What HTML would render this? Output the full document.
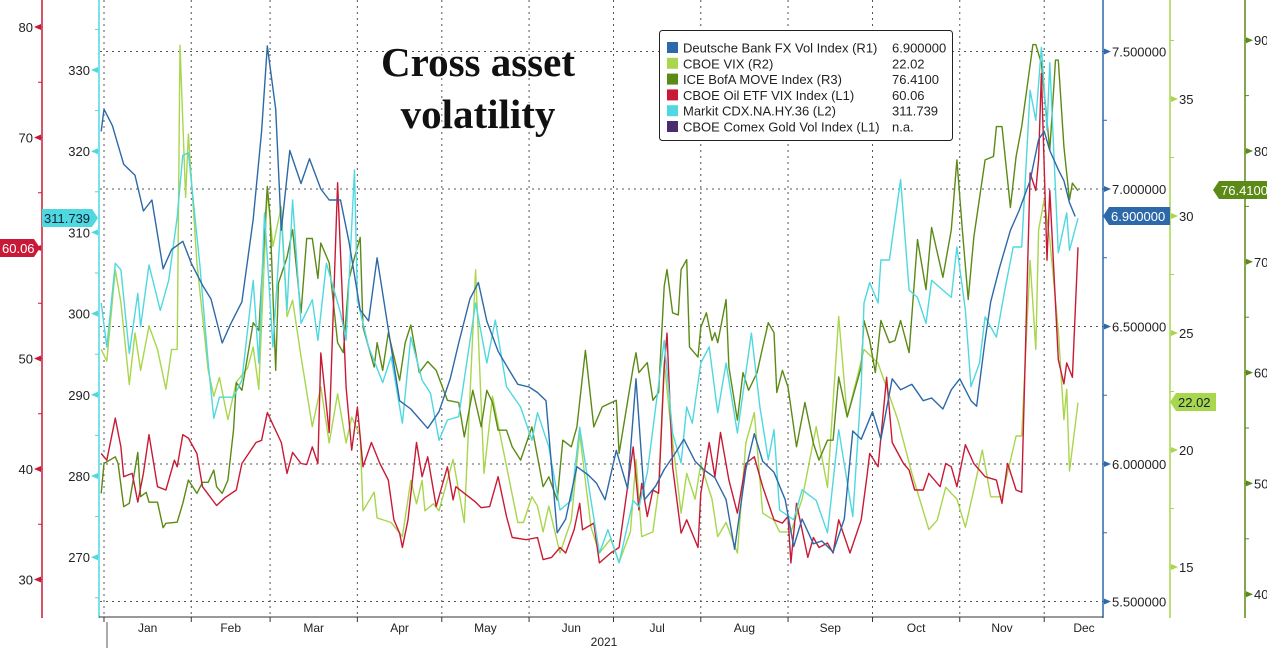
<!DOCTYPE html>
<html><head><meta charset="utf-8">
<style>
html,body{margin:0;padding:0;background:#fff;}
svg{display:block;font-family:"Liberation Sans",sans-serif;}
</style></head>
<body>
<svg id="chart" width="1267" height="648" viewBox="0 0 1267 648" xmlns="http://www.w3.org/2000/svg">
<g id="grid"></g>
<g id="series"></g>
<g id="axes"></g>
<text x="478" y="76" text-anchor="middle" font-family="Liberation Serif,serif" font-weight="bold" font-size="41" fill="#111" stroke="#fff" stroke-width="3" paint-order="stroke">Cross asset</text>
<text x="478" y="128" text-anchor="middle" font-family="Liberation Serif,serif" font-weight="bold" font-size="41" fill="#111" stroke="#fff" stroke-width="3" paint-order="stroke">volatility</text>
<g id="legend"></g>
</svg>
<script>
// ---- data (x = day of year 2021, 0 = Jan 1) ----
const fxDays=[-1,0,3,7,11,14,17,21,24,28,31,35,38,42,45,49,53,56,58,61,63,66,70,73,77,80,84,87,91,94,97,101,105,109,115,119,123,126,130,133,136,140,144,147,151,154,157,161,164,168,172,175,178,182,186,189,192,196,199,203,206,210,213,217,221,224,228,231,234,238,242,245,248,252,255,259,263,266,269,273,276,280,283,287,291,294,298,301,304,308,310,313,315,318,322,325,329,332,334,336,339,341,343,345];
const fxVals=[7.21,7.29,7.23,7.09,7.05,6.92,6.96,6.71,6.78,6.81,6.73,6.65,6.60,6.44,6.51,6.59,6.89,7.21,7.52,7.29,6.85,7.14,7.02,7.11,7.00,6.96,6.96,6.81,6.56,6.52,6.75,6.49,6.23,6.20,6.13,6.19,6.31,6.44,6.60,6.66,6.52,6.41,6.34,6.29,6.28,6.26,6.23,5.75,5.80,5.99,5.96,5.93,5.87,6.05,5.91,6.31,5.87,5.92,5.98,6.04,6.09,6.01,5.98,5.95,5.87,5.69,5.98,6.11,6.01,5.97,5.87,5.70,5.80,5.71,5.72,5.68,5.80,6.12,6.09,6.19,6.09,6.31,6.27,6.29,6.23,6.24,6.20,6.27,6.31,6.23,6.21,6.45,6.59,6.71,6.85,6.92,7.03,7.18,7.21,7.14,7.07,7.03,6.95,6.90];
const cdxDays=[-1,1,4,6,9,12,13,16,20,23,26,28,30,34,37,39,41,46,49,53,55,57,60,63,65,67,70,74,76,79,84,86,89,90,94,99,102,106,109,113,116,119,122,126,132,136,139,143,148,152,154,158,162,166,169,173,176,179,183,188,190,193,199,202,205,207,209,212,215,218,221,225,230,233,236,238,240,245,248,253,257,261,266,269,270,272,275,276,279,283,286,289,292,294,298,301,303,306,308,311,313,317,320,323,326,329,331,333,335,336,339,342,343,346];
const cdxVals=[301.3,295.9,306.2,305.4,295.1,302.5,298.4,306.0,300.4,304.1,311.9,319.5,319.8,306.2,293.9,287.1,289.7,289.7,291.8,304.1,293.9,312.4,295.9,311.9,300.4,314.0,298.8,301.7,296.7,306.2,300.1,296.7,317.7,301.7,295.9,291.5,294.7,286.5,297.1,291.8,290.2,284.4,286.9,287.3,301.3,293.9,299.2,291.0,288.5,284.4,287.8,283.6,275.8,277.0,286.0,277.0,270.5,273.4,269.3,277.0,276.2,280.4,296.7,285.3,281.6,288.5,286.5,293.9,295.9,287.8,293.9,285.3,297.6,288.5,282.0,285.7,275.8,274.6,278.3,277.0,273.0,285.7,275.0,291.0,301.3,303.8,301.3,306.6,306.6,316.5,302.9,302.0,298.8,304.1,302.9,302.0,308.2,300.4,291.0,293.9,299.6,297.1,302.9,308.2,308.2,327.5,323.8,332.8,322.6,330.9,307.5,312.4,307.8,311.739];
const vixDays=[-1,1,4,6,9,11,13,16,19,22,24,26,27,29,30,33,37,39,41,44,47,51,53,55,58,60,63,65,67,70,74,77,80,83,86,88,91,92,96,97,102,106,109,111,113,114,117,119,124,128,132,135,138,142,147,149,152,154,156,158,162,166,169,173,176,180,183,187,189,191,195,197,199,201,205,207,210,212,216,218,221,225,228,231,234,238,240,244,248,253,257,261,264,269,270,275,282,287,293,296,299,303,306,309,312,315,319,324,326,329,331,332,334,336,339,341,342,343,346];
const vixVals=[24.3,23.8,27.7,26.3,22.8,25.0,23.4,25.3,24.3,22.6,24.3,24.3,37.3,30.8,33.5,28.0,23.4,22.3,23.1,21.3,22.9,23.5,24.4,22.6,31.1,28.7,30.4,25.7,26.4,24.0,21.0,22.7,20.3,22.4,20.3,21.4,20.6,17.4,18.2,17.1,16.9,16.3,18.7,17.7,18.7,17.4,17.7,17.4,19.6,16.9,27.7,19.0,22.3,19.9,16.9,16.9,18.0,17.6,16.5,17.6,15.6,17.0,20.7,16.7,15.6,16.2,15.2,16.5,19.6,16.3,16.5,18.3,23.8,21.4,17.3,19.0,17.9,19.4,17.9,16.3,16.9,15.6,20.3,21.6,17.3,17.0,16.5,16.5,17.9,21.0,18.4,25.7,21.4,23.8,24.3,23.7,21.3,19.0,16.6,17.0,18.4,17.9,16.7,18.3,20.0,18.0,18.0,20.6,20.6,28.1,24.3,29.4,30.7,29.0,25.1,21.3,22.6,19.1,22.02];
const moveDays=[-1,0,4,5,7,9,12,13,15,16,19,21,22,26,28,30,33,35,37,39,40,42,44,46,47,49,53,55,58,59,61,62,65,67,70,72,74,76,77,80,83,85,87,89,91,92,96,97,99,101,105,107,109,112,115,118,122,126,128,131,134,136,138,140,143,145,148,152,156,158,161,163,166,168,171,174,177,182,183,188,189,190,193,195,197,199,200,202,204,205,207,208,211,212,214,216,217,218,221,222,225,227,229,232,234,236,238,239,241,243,246,249,252,254,257,259,261,264,269,270,272,274,276,279,281,283,286,289,292,294,298,301,303,305,307,309,313,316,317,319,322,324,326,330,331,333,336,338,339,341,343,344,346];
const moveVals=[49.1,51.8,52.4,51.8,47.9,48.2,52.8,48.8,49.2,48.3,48.3,46.0,46.4,46.5,48.2,50.3,49.1,50.1,50.1,51.2,49.7,49.1,50.3,54.8,59.1,58.4,64.5,63.8,76.8,74.0,60.2,68.1,70.4,72.9,65.4,72.1,72.1,68.5,71.7,69.9,62.7,61.8,68.4,70.4,72.2,64.1,60.5,62.7,60.2,63.6,59.3,62.7,64.3,60.0,61.0,60.2,57.5,57.3,54.2,58.4,55.1,58.4,57.3,54.8,54.8,53.3,52.1,55.1,49.7,50.6,48.5,53.9,53.3,55.1,62.0,55.1,56.9,57.5,52.7,60.5,61.8,60.0,60.9,57.5,58.2,67.8,69.3,65.4,65.2,69.3,70.2,62.3,61.4,64.1,65.4,62.9,63.6,62.7,66.6,60.5,55.7,60.0,58.4,60.0,62.3,64.5,63.6,58.2,60.2,58.7,53.3,57.3,53.6,52.1,53.9,53.9,59.6,56.0,60.5,64.7,62.9,60.0,64.7,62.7,62.9,64.7,61.8,72.0,67.5,73.1,68.6,72.9,79.2,72.6,66.6,72.2,79.2,79.5,82.2,82.2,74.9,79.5,82.2,89.6,89.6,87.9,80.1,88.2,88.2,80.4,75.6,77.1,76.41];
const oilDays=[-1,1,4,6,7,10,12,14,16,19,22,25,26,28,30,33,35,40,43,47,49,54,56,58,63,65,67,70,72,74,76,77,80,83,86,88,90,92,95,98,101,103,105,106,108,111,113,115,118,122,124,125,128,132,134,137,140,143,145,150,154,156,159,162,164,167,169,170,174,176,180,183,188,190,191,193,195,197,199,200,202,205,207,211,212,215,217,219,222,225,228,231,234,238,241,243,244,246,250,252,254,257,259,261,265,269,271,272,275,278,280,284,286,288,291,293,297,299,301,303,306,309,313,317,319,321,324,326,329,331,332,333,335,336,339,341,342,344,346];
const oilVals=[41.4,40.8,44.6,42.0,39.3,39.6,37.0,39.6,43.1,38.4,38.1,40.8,40.2,43.1,42.8,41.4,38.4,36.7,37.4,38.1,40.5,42.4,42.6,45.1,42.4,39.6,41.5,40.5,40.4,42.0,40.5,50.5,43.3,65.9,47.4,41.7,45.6,40.2,42.4,40.5,39.0,35.4,34.2,32.9,35.4,42.4,39.3,41.1,36.6,40.2,37.2,38.4,37.8,37.0,36.5,36.6,39.3,35.7,33.8,33.6,33.8,31.8,32.0,32.9,32.4,34.5,36.9,34.5,35.1,31.5,32.4,32.9,42.0,36.3,38.7,35.7,38.1,37.8,49.2,52.3,40.2,34.2,35.4,32.9,37.8,42.4,39.3,43.3,39.0,36.0,40.5,41.1,38.4,35.4,35.1,35.7,31.5,36.9,32.0,33.8,32.9,33.3,32.4,35.4,32.4,35.4,39.3,41.4,40.2,48.3,42.4,40.5,39.9,38.1,38.1,39.6,38.4,40.5,40.2,38.4,42.2,40.5,39.3,39.0,36.9,40.5,38.1,37.9,66.8,65.2,68.0,75.8,58.9,65.2,49.9,47.7,49.6,48.3,60.06];
const monthNames=["Jan","Feb","Mar","Apr","May","Jun","Jul","Aug","Sep","Oct","Nov","Dec"];
const monthStarts=[0,31,59,90,120,151,181,212,243,273,304,334];
const l1Ticks=[30,40,50,60,70,80];
const l2Ticks=[270,280,290,300,310,320,330];
const r1Ticks=[5.5,6.0,6.5,7.0,7.5];
const r2Ticks=[15,20,25,30,35];
const r3Ticks=[40,50,60,70,80,90];
const legendNames=["Deutsche Bank FX Vol Index (R1)","CBOE VIX (R2)","ICE BofA MOVE Index (R3)","CBOE Oil ETF VIX Index (L1)","Markit CDX.NA.HY.36 (L2)","CBOE Comex Gold Vol Index (L1)"];
const legendValues=["6.900000","22.02","76.4100","60.06","311.739","n.a."];

// ---- scales ----
const X=d=>104+d*2.815;
const yL1=v=>248-(v-60)*11.05;
const yL2=v=>70-(v-330)*8.12;
const yR1=v=>189-(v-7)*275;
const yR2=v=>216-(v-30)*23.4;
const yR3=v=>151-(v-80)*11.08;

const C={fx:"#2d69a8",vix:"#a8d64c",move:"#5c8a16",oil:"#c81a36",cdx:"#4fd8e0",gold:"#4a2d6e"};
const NS="http://www.w3.org/2000/svg";
function mk(tag,attrs,parent){const e=document.createElementNS(NS,tag);for(const k in attrs)e.setAttribute(k,attrs[k]);parent.appendChild(e);return e;}
const svg=document.getElementById('chart');
const grid=document.getElementById('grid');
const ser=document.getElementById('series');
const axes=document.getElementById('axes');

const defs=mk('defs',{},svg);
const cp=mk('clipPath',{id:'plotclip'},defs);
mk('rect',{x:99,y:0,width:1004,height:617},cp);
ser.setAttribute('clip-path','url(#plotclip)');

r1Ticks.forEach(t=>{const l=mk('line',{x1:100,x2:1103,y1:yR1(t),y2:yR1(t),stroke:'#555','stroke-width':1,'stroke-dasharray':'2,4'},grid);

});
monthStarts.forEach(d=>{const l=mk('line',{x1:X(d),x2:X(d),y1:0,y2:617,stroke:'#555','stroke-width':1,'stroke-dasharray':'2,4'},grid);

});

function line(days,vals,yf,color,name){
  const n=Math.min(days.length,vals.length);let d='';
  for(let i=0;i<n;i++)d+=(i?'L':'M')+X(days[i]).toFixed(1)+','+yf(vals[i]).toFixed(1);
  const p=mk('path',{d:d,fill:'none',stroke:color,'stroke-width':1.4,'stroke-linejoin':'round'},ser);
  
  
}
line(vixDays,vixVals,yR2,C.vix,'vix-line');
line(moveDays,moveVals,yR3,C.move,'move-index-line');
line(oilDays,oilVals,yL1,C.oil,'oil-vix-line');
line(cdxDays,cdxVals,yL2,C.cdx,'cdx-hy-line');
line(fxDays,fxVals,yR1,C.fx,'fx-vol-line');

function vaxis(x,ticks,minorStep,yf,color,side,fmt,name){
  const g=mk('g',{},axes);
  
  
  mk('line',{x1:x,x2:x,y1:0,y2:618,stroke:color,'stroke-width':1.5},g);
  const lo=ticks[0]-minorStep*2,hi=ticks[ticks.length-1]+minorStep*2;
  for(let v=lo;v<=hi+1e-9;v+=minorStep){const y=yf(v);if(y<2||y>614)continue;
    mk('line',{x1:side<0?x-4:x,x2:side<0?x:x+4,y1:y,y2:y,stroke:color,'stroke-width':1},g);}
  ticks.forEach(t=>{const y=yf(t);
    if(side<0){mk('polygon',{points:`${x-8},${y} ${x-1},${y-3} ${x-1},${y+3}`,fill:color},g);
      const tx=mk('text',{x:x-9,y:y+5,'text-anchor':'end','font-size':13,fill:'#222'},g);tx.textContent=fmt(t);
      
      }
    else{mk('polygon',{points:`${x+8},${y} ${x+1},${y-3} ${x+1},${y+3}`,fill:color},g);
      const tx=mk('text',{x:x+9,y:y+5,'font-size':13,fill:'#222'},g);tx.textContent=fmt(t);
      
      }
  });
}
vaxis(42,l1Ticks,5,yL1,C.oil,-1,t=>String(t),'left-axis-l1');
vaxis(99,l2Ticks,5,yL2,C.cdx,-1,t=>String(t),'left-axis-l2');
vaxis(1103,r1Ticks,0.25,yR1,C.fx,1,t=>t.toFixed(6),'right-axis-r1');
vaxis(1170,r2Ticks,2.5,yR2,C.vix,1,t=>String(t),'right-axis-r2');
vaxis(1245,r3Ticks,5,yR3,C.move,1,t=>String(t),'right-axis-r3');

const xa=mk('g',{},axes);


mk('line',{x1:99,x2:1103,y1:617,y2:617,stroke:'#333','stroke-width':1},xa);
monthStarts.forEach((d,i)=>{
  mk('line',{x1:X(d),x2:X(d),y1:617,y2:622,stroke:'#333','stroke-width':1},xa);
  const next=i<11?monthStarts[i+1]:365;
  let cx=X((d+next)/2); if(i===11)cx=1084;
  const t=mk('text',{x:cx,y:632,'text-anchor':'middle','font-size':12,fill:'#222'},xa);t.textContent=monthNames[i];
  
  
});
mk('line',{x1:107,x2:107,y1:622,y2:648,stroke:'#555','stroke-width':1},xa);
const yr=mk('text',{x:604,y:646,'text-anchor':'middle','font-size':12,fill:'#222'},xa);yr.textContent='2021';



function flag(x,y,w,text,bg,fg,dir,name){
  const g=mk('g',{},axes);
  
  
  const h=18,t=y-h/2;let pts;
  if(dir>0)pts=`${x},${t} ${x+w-6},${t} ${x+w},${y} ${x+w-6},${t+h} ${x},${t+h}`;
  else pts=`${x+6},${t} ${x+w},${t} ${x+w},${t+h} ${x+6},${t+h} ${x},${y}`;
  mk('polygon',{points:pts,fill:bg},g);
  const tx=mk('text',{x:dir>0?x+2:x+8,y:y+5,'font-size':13,fill:fg},g);tx.textContent=text;
}
flag(0,248,40,'60.06',C.oil,'#fff',1,'oil-value-flag');
flag(42,218,56,'311.739',C.cdx,'#123',1,'cdx-value-flag');
flag(1103,216,67,'6.900000',C.fx,'#fff',-1,'fx-value-flag');
flag(1170,402,46,'22.02',C.vix,'#123',-1,'vix-value-flag');
flag(1213,190,56,'76.4100',C.move,'#fff',-1,'move-value-flag');

const lg=document.getElementById('legend');
mk('rect',{x:659.5,y:30.5,width:293,height:110,rx:3,fill:'#fff',stroke:'#222','stroke-width':1},lg);
const lc=[C.fx,C.vix,C.move,C.oil,C.cdx,C.gold];
legendNames.forEach((n,i)=>{
  const y=48+i*15.8;
  const e=mk('g',{},lg);
  
  
  mk('rect',{x:667,y:y-6,width:11,height:11,fill:lc[i]},e);
  const t=mk('text',{x:683,y:y+4.5,'font-size':13,fill:'#222'},e);t.textContent=n;
  const v=mk('text',{x:892,y:y+4.5,'font-size':13,fill:'#222'},e);v.textContent=legendValues[i];
});
</script>
</body></html>
